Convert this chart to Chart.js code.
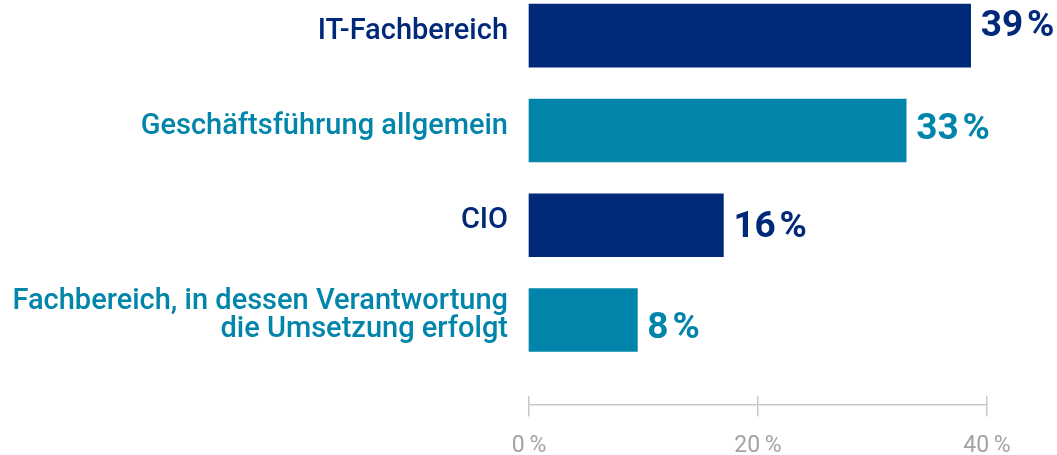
<!DOCTYPE html>
<html>
<head>
<meta charset="utf-8">
<script src="https://cdn.jsdelivr.net/npm/chart.js@4.4.1/dist/chart.umd.min.js"></script>
<style>
  html, body { margin: 0; padding: 0; background: #fff; }
  #wrap { width: 1057px; height: 455px; position: relative; }
</style>
</head>
<body>
<div id="wrap"><canvas id="chart"></canvas></div>
<script>
// Chart data
const categories = [
    'IT-Fachbereich',
    'Geschäftsführung allgemein',
    'CIO',
    ['Fachbereich, in dessen Verantwortung', 'die Umsetzung erfolgt']
];
const shares = [39, 33, 16, 8];
const tickValues = [0, 20, 40];

const navy = '#00297a';
const teal = '#0285ab';
const barColors = [navy, teal, navy, teal];
const labelNudge = [-11, -3, 1, 7]; // vertical shift of the % labels, px

const axisGray = '#c9c9c9';
const xAxisAt = 3.897; // y position (in category units) of the bottom axis line

// Percentage labels right of each bar
const valueLabels = {
    id: 'valueLabels',
    afterDatasetsDraw(chart) {
        const ctx = chart.ctx;
        const meta = chart.getDatasetMeta(0);
        ctx.save();
        ctx.font = 'bold 37px Roboto';
        ctx.textAlign = 'left';
        ctx.textBaseline = 'middle';
        meta.data.forEach((bar, i) => {
            ctx.fillStyle = barColors[i];
            ctx.fillText(shares[i] + '\u200A%', bar.x + 10, bar.y + 2 + labelNudge[i]);
        });
        ctx.restore();
    }
};

const setTicks = scale => { scale.ticks = tickValues.map(v => ({ value: v })); };

new Chart(document.getElementById('chart'), {
    type: 'bar',
    data: {
        labels: categories,
        datasets: [{
            data: shares,
            backgroundColor: barColors,
            xAxisID: 'xBar',
            base: -2.08,
            barThickness: 63,
            clip: false
        }]
    },
    options: {
        indexAxis: 'y',
        responsive: true,
        maintainAspectRatio: false,
        animation: false,
        layout: { padding: { top: 35.7, bottom: 135, left: 0, right: 70 } },
        plugins: {
            legend: { display: false },
            tooltip: { enabled: false }
        },
        scales: {
            y: {
                type: 'category',
                offset: false,
                grid: { display: false, drawTicks: false },
                border: { display: false },
                ticks: {
                    padding: 21,
                    labelOffset: -4,
                    color: c => barColors[c.index],
                    font: { family: 'Roboto', size: 29, weight: '500', lineHeight: 0.95 }
                },
                afterFit(scale) {
                    scale.width = 529;
                    // labels may overhang the plot area, bars are placed by the padding above
                    scale.paddingTop = 0;
                    scale.paddingBottom = 0;
                }
            },
            xBar: {
                type: 'linear',
                display: false,
                min: -2.08,
                max: 40.52
            },
            x: {
                type: 'linear',
                min: 0,
                max: 40,
                position: { y: xAxisAt },
                afterBuildTicks: setTicks,
                grid: { drawOnChartArea: false, tickLength: 11, color: axisGray, lineWidth: 1.5 },
                border: { color: axisGray, width: 1.5 },
                ticks: {
                    padding: 16,
                    color: '#a3a3a3',
                    font: { family: 'Roboto', size: 23 },
                    callback: v => v + '\u2009%'
                }
            },
            xUp: {
                type: 'linear',
                min: 0,
                max: 40,
                position: { y: xAxisAt },
                afterBuildTicks: setTicks,
                grid: { drawOnChartArea: false, tickLength: -9, color: axisGray, lineWidth: 1.5 },
                border: { display: false },
                ticks: { display: false }
            }
        }
    },
    plugins: [valueLabels]
});
</script>
</body>
</html>
